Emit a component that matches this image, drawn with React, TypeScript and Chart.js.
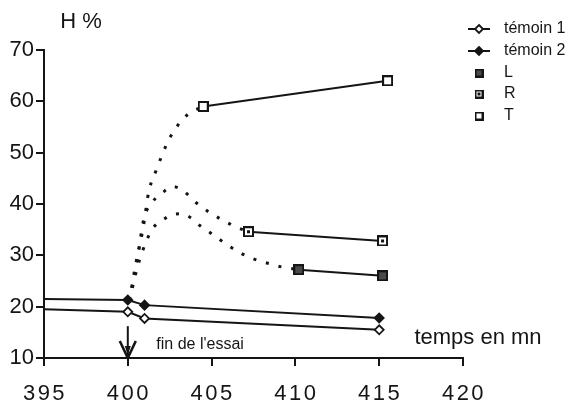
import React, { useEffect, useRef } from "react";
import { Chart, registerables } from "chart.js";

Chart.register(...registerables);

// ---- data ----
const xTickLabels = [395, 400, 405, 410, 415, 420];
const yTickLabels = [10, 20, 30, 40, 50, 60, 70];
const legendLabels = ["témoin 1", "témoin 2", "L", "R", "T"];

const temoin1X = [395, 400, 401, 415];
const temoin1Y = [19.5, 19.0, 17.7, 15.5];
const temoin2X = [395, 400, 401, 415];
const temoin2Y = [21.5, 21.3, 20.3, 17.8];

const seriesTX = [404.5, 415.5];
const seriesTY = [59, 64];
const seriesRX = [407.2, 415.2];
const seriesRY = [34.6, 32.8];
const seriesLX = [410.2, 415.2];
const seriesLY = [27.2, 26.0];

// dotted transition curves (read along the dotted paths)
const curveTX = [400.1, 400.5, 400.9, 401.25, 401.7, 402.4, 403.0, 403.6, 404.5];
const curveTY = [21.2, 28.8, 35.0, 42.4, 46.6, 52.2, 55.4, 57.5, 59];
const curveRX = [400.1, 400.6, 400.95, 401.5, 402.1, 402.7, 403.3, 404.1, 404.9, 405.7, 406.4, 407.2];
const curveRY = [21.2, 30.0, 37.0, 40.5, 42.3, 43.4, 42.6, 40.2, 38.3, 36.8, 35.6, 34.6];
const curveLX = [400.1, 400.6, 401.1, 401.5, 402.1, 402.6, 403.2, 403.8, 404.3, 405.1, 405.9, 406.7, 407.5, 408.3, 409.1, 410.2];
const curveLY = [21.2, 28.0, 32.7, 35.3, 36.9, 37.9, 38.1, 37.2, 35.8, 34.0, 32.1, 30.5, 29.3, 28.5, 27.8, 27.2];

const endOfTestX = 400;
const arrowTopY = 16.2;
const endOfTestText = "fin de l'essai";
const endOfTestTextPos = { x: 401.7, y: 12.6 };
const xTitle = "temps en mn";
const xTitlePos = { x: 417.1, y: 14.0 };
const yTitle = "H %";

const INK = "#151515";
const FONT = "'Liberation Sans', Arial, Helvetica, sans-serif";

const pts = (xs: number[], ys: number[]) => xs.map((x, i) => ({ x, y: ys[i] }));

function squareIcon(size: number, fill: string, dot: boolean) {
  const c = document.createElement("canvas");
  c.width = size;
  c.height = size;
  const g = c.getContext("2d")!;
  g.fillStyle = fill;
  g.fillRect(1, 1, size - 2, size - 2);
  g.strokeStyle = INK;
  g.lineWidth = 2;
  g.strokeRect(1, 1, size - 2, size - 2);
  if (dot) {
    g.fillStyle = INK;
    g.fillRect(size / 2 - 1.5, size / 2 - 1.5, 3, 3);
  }
  return c;
}

export default function App() {
  const ref = useRef<HTMLCanvasElement | null>(null);

  useEffect(() => {
    if (!ref.current) return;
    const iconT = squareIcon(11, "#ffffff", false);
    const iconR = squareIcon(11, "#ffffff", true);
    const iconL = squareIcon(11, "#4a4a4a", false);
    const legT = squareIcon(9, "#ffffff", false);
    const legR = squareIcon(9, "#ffffff", true);
    const legL = squareIcon(9, "#4a4a4a", false);

    const drawDiamond = (ctx: CanvasRenderingContext2D, x: number, y: number, r: number, filled: boolean) => {
      ctx.beginPath();
      ctx.moveTo(x, y - r);
      ctx.lineTo(x + r, y);
      ctx.lineTo(x, y + r);
      ctx.lineTo(x - r, y);
      ctx.closePath();
      ctx.fillStyle = filled ? INK : "#ffffff";
      ctx.fill();
      ctx.lineWidth = 1.8;
      ctx.strokeStyle = INK;
      ctx.stroke();
    };

    const decor = {
      id: "decor",
      afterDraw(chart: any) {
        const ctx: CanvasRenderingContext2D = chart.ctx;
        const xs = chart.scales.x;
        const ys = chart.scales.y;
        ctx.save();
        ctx.fillStyle = INK;
        ctx.strokeStyle = INK;

        // x tick labels (spaced digits)
        ctx.font = `22px ${FONT}`;
        (ctx as any).letterSpacing = "2.5px";
        ctx.textAlign = "center";
        ctx.textBaseline = "middle";
        xTickLabels.forEach((v) => {
          ctx.fillText(String(v), xs.getPixelForValue(v) + 1, 394);
        });
        (ctx as any).letterSpacing = "0px";

        // y title
        ctx.textAlign = "center";
        ctx.fillText(yTitle, chart.chartArea.left + 37, 22);

        // x title
        ctx.textAlign = "left";
        ctx.fillText(xTitle, xs.getPixelForValue(xTitlePos.x), ys.getPixelForValue(xTitlePos.y));

        // end of test arrow
        const ax = xs.getPixelForValue(endOfTestX);
        const aTop = ys.getPixelForValue(arrowTopY);
        const aBot = ys.getPixelForValue(10);
        ctx.lineWidth = 2;
        ctx.beginPath();
        ctx.moveTo(ax, aTop);
        ctx.lineTo(ax, aBot);
        ctx.stroke();
        ctx.lineWidth = 2.6;
        ctx.beginPath();
        ctx.moveTo(ax - 8, aBot - 17);
        ctx.lineTo(ax, aBot);
        ctx.lineTo(ax + 8, aBot - 17);
        ctx.stroke();
        ctx.beginPath();
        ctx.moveTo(ax - 3, aBot - 12);
        ctx.lineTo(ax, aBot - 3);
        ctx.lineTo(ax + 3, aBot - 12);
        ctx.closePath();
        ctx.fill();

        ctx.font = `16px ${FONT}`;
        ctx.textAlign = "left";
        ctx.textBaseline = "middle";
        ctx.fillText(endOfTestText, xs.getPixelForValue(endOfTestTextPos.x), ys.getPixelForValue(endOfTestTextPos.y));

        // legend
        const lx = 479;
        const tx = 504;
        const rows = [29, 51, 73, 94, 116];
        ctx.font = `16px ${FONT}`;
        legendLabels.forEach((lab, i) => {
          const y = rows[i];
          if (i < 2) {
            ctx.lineWidth = 2;
            ctx.beginPath();
            ctx.moveTo(lx - 11, y);
            ctx.lineTo(lx + 11, y);
            ctx.stroke();
            drawDiamond(ctx, lx, y, 4, i === 1);
          } else {
            const icon = i === 2 ? legL : i === 3 ? legR : legT;
            ctx.drawImage(icon, lx - icon.width / 2, y - icon.height / 2);
          }
          ctx.fillStyle = INK;
          ctx.fillText(lab, tx, y);
        });
        ctx.restore();
      },
    };

    const dotted = (xs: number[], ys: number[]) => ({
      data: pts(xs, ys),
      showLine: true,
      borderColor: INK,
      borderWidth: 3,
      borderDash: [3, 10],
      borderCapStyle: "butt",
      cubicInterpolationMode: "monotone",
      pointRadius: 0,
      pointHoverRadius: 0,
      fill: false,
    });

    const chart = new Chart(ref.current, {
      type: "scatter",
      data: {
        datasets: [
          {
            label: legendLabels[0],
            data: pts(temoin1X, temoin1Y),
            showLine: true,
            borderColor: INK,
            borderWidth: 2,
            pointStyle: "rectRot",
            pointRadius: [0, 4.5, 4.5, 4.5],
            pointBackgroundColor: "#ffffff",
            pointBorderColor: INK,
            pointBorderWidth: 1.8,
          },
          {
            label: legendLabels[1],
            data: pts(temoin2X, temoin2Y),
            showLine: true,
            borderColor: INK,
            borderWidth: 2,
            pointStyle: "rectRot",
            pointRadius: [0, 4.5, 4.5, 4.5],
            pointBackgroundColor: INK,
            pointBorderColor: INK,
            pointBorderWidth: 1.8,
          },
          {
            label: legendLabels[2],
            data: pts(seriesLX, seriesLY),
            showLine: true,
            borderColor: INK,
            borderWidth: 2,
            pointStyle: iconL,
            pointRadius: 6,
          },
          {
            label: legendLabels[3],
            data: pts(seriesRX, seriesRY),
            showLine: true,
            borderColor: INK,
            borderWidth: 2,
            pointStyle: iconR,
            pointRadius: 6,
          },
          {
            label: legendLabels[4],
            data: pts(seriesTX, seriesTY),
            showLine: true,
            borderColor: INK,
            borderWidth: 2,
            pointStyle: iconT,
            pointRadius: 6,
          },
          { label: "T curve", ...dotted(curveTX, curveTY) },
          { label: "R curve", ...dotted(curveRX, curveRY) },
          { label: "L curve", ...dotted(curveLX, curveLY) },
        ] as any,
      },
      options: {
        animation: false,
        responsive: true,
        maintainAspectRatio: false,
        layout: { padding: { top: 50, right: 112, left: 0, bottom: 0 } },
        plugins: {
          legend: { display: false },
          tooltip: { enabled: false },
        },
        scales: {
          x: {
            type: "linear",
            min: xTickLabels[0],
            max: xTickLabels[xTickLabels.length - 1],
            ticks: { display: false, stepSize: 5 },
            grid: {
              drawOnChartArea: false,
              drawTicks: true,
              tickLength: 8,
              color: INK,
              lineWidth: 2,
            },
            border: { display: true, color: INK, width: 2 },
            afterFit: (s: any) => {
              s.height = 53;
            },
          },
          y: {
            type: "linear",
            min: yTickLabels[0],
            max: yTickLabels[yTickLabels.length - 1],
            ticks: {
              stepSize: 10,
              color: INK,
              padding: 2,
              font: { family: FONT, size: 22 },
            },
            grid: {
              drawOnChartArea: false,
              drawTicks: true,
              tickLength: 8,
              color: INK,
              lineWidth: 2,
            },
            border: { display: true, color: INK, width: 2 },
            afterFit: (s: any) => {
              s.width = 44;
            },
          },
        },
      } as any,
      plugins: [decor],
    });
    return () => chart.destroy();
  }, []);

  return (
    <div style={{ position: "fixed", left: 0, top: 0, width: 575, height: 411, background: "#ffffff" }}>
      <canvas ref={ref} />
    </div>
  );
}
